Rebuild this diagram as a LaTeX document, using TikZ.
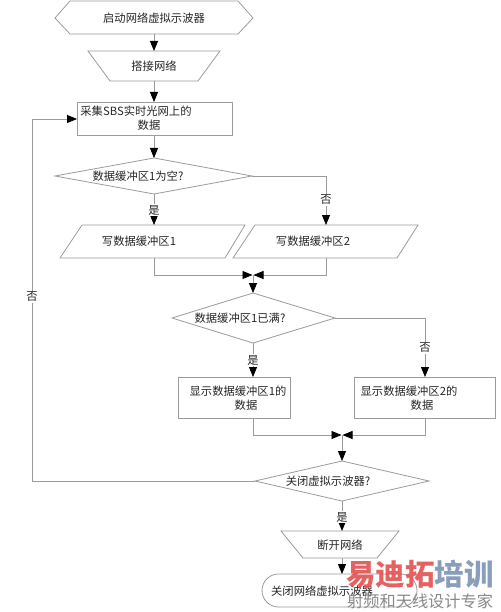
\documentclass[tikz,border=0pt]{standalone}
\usepackage{fontspec}
\newfontfamily\cjk{Noto Sans CJK SC}
\usetikzlibrary{arrows.meta}
\definecolor{ln}{RGB}{155,155,155}
\definecolor{wmred}{RGB}{228,80,80}
\definecolor{wmblue}{RGB}{125,148,182}
\definecolor{wmgray}{RGB}{125,125,125}
\tikzset{
  shp/.style={draw=ln,line width=0.8pt,fill=white},
  con/.style={draw=ln,line width=0.8pt},
  arr/.style={con,-{Triangle[length=10pt,width=8pt,color=black]}},
  txt/.style={font=\cjk\fontsize{11.3}{13}\selectfont,inner sep=0pt,text=black!85},
  lbl/.style={font=\cjk\fontsize{11.3}{13}\selectfont,inner sep=1pt,fill=white,text=black!85},
}
\begin{document}
\begin{tikzpicture}[x=1pt,y=-1pt]
\useasboundingbox[fill=white] (0,0) rectangle (500,612);
% ---- shapes
\draw[shp] (55,18)--(70,1)--(238,1)--(253,18)--(238,34)--(70,34)--cycle;
\node[txt] (start) at (154,18) {启动网络虚拟示波器};
\coordinate (startS) at (154,34);

\draw[shp] (88,51)--(220,51)--(198,81)--(110,81)--cycle;
\node[txt] (net) at (154,66) {搭接网络};
\coordinate (netN) at (154,51);
\coordinate (netS) at (154,81);

\draw[shp] (77,102) rectangle (232,135);
\node[txt] (acq1) at (136,111) {采集SBS实时光网上的};
\node[txt] (acq2) at (149,125) {数据};
\coordinate (acqN) at (154,102);
\coordinate (acqS) at (154,135);
\coordinate (acqW) at (77,119);

\draw[shp] (55,176)--(154,158)--(252,176)--(154,194)--cycle;
\node[txt] (d1) at (138,176) {数据缓冲区1为空?};
\coordinate (d1N) at (154,158);
\coordinate (d1E) at (252,176);
\coordinate (d1S) at (154,194);
\coordinate (d1c) at (326,176);

\draw[shp] (82,225)--(245,225)--(225,258)--(60,258)--cycle;
\node[txt] (w1) at (139,241) {写数据缓冲区1};
\coordinate (w1N) at (154,225);
\coordinate (w1S) at (154,258);
\draw[shp] (255,225)--(418,225)--(397,258)--(233,258)--cycle;
\node[txt] (w2) at (313,241) {写数据缓冲区2};
\coordinate (w2N) at (326,225);
\coordinate (w2S) at (326,258);

\coordinate (m1L) at (154,275);
\coordinate (m1R) at (326,275);
\coordinate (m1a) at (252.5,275);
\coordinate (m1b) at (253.5,275);
\coordinate (m1) at (253,275);

\draw[shp] (172,318)--(253,293)--(335,318)--(253,343)--cycle;
\node[txt] (d2) at (240,318) {数据缓冲区1已满?};
\coordinate (d2N) at (253,293);
\coordinate (d2E) at (335,318);
\coordinate (d2S) at (253,343);
\coordinate (d2c) at (425,318);

\draw[shp] (178,377) rectangle (290,418);
\node[txt] (s1a) at (238,391) {显示数据缓冲区1的};
\node[txt] (s1b) at (246,405) {数据};
\coordinate (s1N) at (253,377);
\coordinate (s1S) at (253,418);
\draw[shp] (354,377) rectangle (495,418);
\node[txt] (s2a) at (409,391) {显示数据缓冲区2的};
\node[txt] (s2b) at (422,405) {数据};
\coordinate (s2N) at (425,377);
\coordinate (s2S) at (425,418);

\coordinate (m2L) at (253,435);
\coordinate (m2R) at (425,435);
\coordinate (m2a) at (341.5,435);
\coordinate (m2b) at (342.5,435);
\coordinate (m2) at (342,435);

\draw[shp] (255,481)--(342,461)--(429,481)--(342,501)--cycle;
\node[txt] (d3) at (328,481) {关闭虚拟示波器?};
\coordinate (d3N) at (342,461);
\coordinate (d3W) at (255,481);
\coordinate (d3S) at (342,501);
\coordinate (lpB) at (32,481);
\coordinate (lpT) at (32,119);

\draw[shp] (281,531)--(399,531)--(377,558)--(303,558)--cycle;
\node[txt] (disc) at (340,545) {断开网络};
\coordinate (discN) at (342,531);
\coordinate (discS) at (342,558);

\draw[shp,rounded corners=16.5pt] (262,574) rectangle (417,607);
\node[txt] (endt) at (322,591) {关闭网络虚拟示波器};
\coordinate (endN) at (342,574);

% ---- connectors
\draw[arr] (startS) -- (netN);
\draw[arr] (netS) -- (acqN);
\draw[arr] (acqS) -- (d1N);
\draw[arr] (d1S) -- (w1N);
\node[lbl] (y1) at (154,210) {是};
\draw[arr] (d1E) -- (d1c) -- (w2N);
\node[lbl] (n1) at (326,200) {否};
\draw[arr] (w1S) -- (m1L) -- (m1a);
\draw[arr] (w2S) -- (m1R) -- (m1b);
\draw[arr] (m1) -- (d2N);
\draw[arr] (d2S) -- (s1N);
\node[lbl] (y2) at (253,360) {是};
\draw[arr] (d2E) -- (d2c) -- (s2N);
\node[lbl] (n2) at (425,348) {否};
\draw[arr] (s1S) -- (m2L) -- (m2a);
\draw[arr] (s2S) -- (m2R) -- (m2b);
\draw[arr] (m2) -- (d3N);
\draw[arr] (d3W) -- (lpB) -- (lpT) -- (acqW);
\node[lbl] (n3) at (32,297) {否};
\draw[arr] (d3S) -- (discN);
\node[lbl] (y3) at (342,517) {是};
\draw[arr] (discS) -- (endN);

% ---- watermark
\node[inner sep=0pt,anchor=west,font=\cjk\bfseries\fontsize{29.5}{30}\selectfont,opacity=0.9] (wm1) at (346,574)
  {\textcolor{wmred}{易迪拓}\textcolor{wmblue}{培训}};
\node[inner sep=0pt,anchor=west,font=\cjk\fontsize{16.2}{17}\selectfont,text=wmgray,opacity=0.9] (wm2) at (347,601)
  {射频和天线设计专家};
\end{tikzpicture}
\end{document}
